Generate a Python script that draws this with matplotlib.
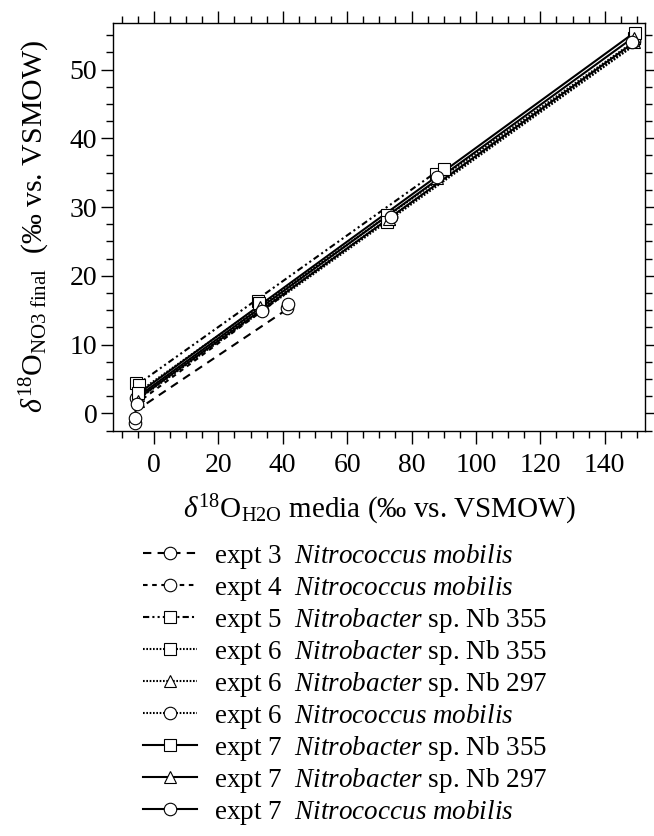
import numpy as np
import matplotlib
matplotlib.use("Agg")
import matplotlib.pyplot as plt
from matplotlib.ticker import MultipleLocator
from matplotlib.lines import Line2D

plt.rcParams['font.family'] = ['Liberation Serif', 'DejaVu Serif']
plt.rcParams['mathtext.fontset'] = 'custom'
plt.rcParams['mathtext.rm'] = 'Liberation Serif'
plt.rcParams['mathtext.it'] = 'Liberation Serif:italic'
plt.rcParams['mathtext.bf'] = 'Liberation Serif:bold'

# series labels (legend order)
labels = [
    r"expt 3  $\mathit{Nitrococcus\ mobilis}$",
    r"expt 4  $\mathit{Nitrococcus\ mobilis}$",
    r"expt 5  $\mathit{Nitrobacter}$ sp. Nb 355",
    r"expt 6  $\mathit{Nitrobacter}$ sp. Nb 355",
    r"expt 6  $\mathit{Nitrobacter}$ sp. Nb 297",
    r"expt 6  $\mathit{Nitrococcus\ mobilis}$",
    r"expt 7  $\mathit{Nitrobacter}$ sp. Nb 355",
    r"expt 7  $\mathit{Nitrobacter}$ sp. Nb 297",
    r"expt 7  $\mathit{Nitrococcus\ mobilis}$",
]

# d18O water (x) and d18O nitrate (y)
x_e3 = [-6.0, 41.2]
y_e3 = [-1.4, 15.3]
x_e4 = [-5.8, 41.6]
y_e4 = [-0.7, 15.9]
x_e5 = [-5.5, 32.3, 87.5]
y_e5 = [4.4, 16.3, 34.8]
x_e6_355 = [-4.5, 33.0, 72.5, 90.0, 149.0]
y_e6_355 = [4.1, 15.7, 28.9, 35.6, 54.6]
x_e6_297 = [-5.0, 33.0, 73.0, 88.0, 149.0]
y_e6_297 = [2.6, 15.3, 28.3, 34.2, 54.0]
x_e6_nm = [-5.5, 33.5, 73.5, 88.0, 149.0]
y_e6_nm = [2.3, 15.0, 28.5, 34.3, 54.2]
x_e7_355 = [-5.0, 32.5, 72.5, 149.5]
y_e7_355 = [2.9, 16.0, 27.8, 55.3]
x_e7_297 = [-5.0, 33.0, 73.0, 149.0]
y_e7_297 = [1.8, 15.5, 28.2, 54.6]
x_e7_nm = [-5.2, 33.5, 73.5, 148.5]
y_e7_nm = [1.4, 14.9, 28.6, 54.0]

# regression lines (slope, intercept)
fit_slope = [0.314, 0.345, 0.333, 0.331, 0.332, 0.334, 0.3407, 0.3394, 0.3362]
fit_intercept = [2.15, 3.3, 5.9, 4.7, 4.1, 3.7, 4.53, 4.13, 3.81]

xs = [x_e3, x_e4, x_e5, x_e6_355, x_e6_297, x_e6_nm, x_e7_355, x_e7_297, x_e7_nm]
ys = [y_e3, y_e4, y_e5, y_e6_355, y_e6_297, y_e6_nm, y_e7_355, y_e7_297, y_e7_nm]

markers = ['o', 'o', 's', 's', '^', 'o', 's', '^', 'o']
styles = [(0, (4, 3)), (0, (2.2, 2.2)), (0, (3, 1.5, 1, 1.5, 1, 1.5)),
          (0, (0.8, 0.8)), (0, (0.8, 0.8)), (0, (0.8, 0.8)),
          '-', '-', '-']

fig = plt.figure(figsize=(6.54, 8.36), dpi=100)
ax = fig.add_axes([0.1733, 0.4848, 0.8129, 0.488])

for i in range(len(xs)):
    xl = np.array([min(xs[i]), max(xs[i])])
    ax.plot(xl, fit_slope[i] * xl + fit_intercept[i], color='black',
            linestyle=styles[i], linewidth=1.5, zorder=2)
for i in range(len(xs)):
    ax.plot(xs[i], ys[i], linestyle='none', marker=markers[i], markersize=9,
            markerfacecolor='white', markeredgecolor='black',
            markeredgewidth=0.8, zorder=3)

ax.set_xlim(-12.6, 152.5)
ax.set_ylim(-2.52, 56.8)
ax.xaxis.set_major_locator(MultipleLocator(20))
ax.xaxis.set_minor_locator(MultipleLocator(5))
ax.yaxis.set_major_locator(MultipleLocator(10))
ax.yaxis.set_minor_locator(MultipleLocator(2.5))
ax.tick_params(which='both', direction='out', top=True, right=True, width=1)
ax.tick_params(which='major', length=9)
ax.tick_params(which='minor', length=4.8)
ax.tick_params(axis='x', labelsize=20, pad=7)
ax.tick_params(axis='y', labelsize=20, pad=2.5)
for sp in ax.spines.values():
    sp.set_linewidth(1)

ax.set_xlabel(r"$\delta^{18}\mathrm{O}_{\mathrm{H2O}}$ media (‰ vs. VSMOW)",
              fontsize=21, labelpad=11)
ax.set_ylabel(r"$\delta^{18}\mathrm{O}_{\mathrm{NO3\ final}}$  (‰ vs. VSMOW)",
              fontsize=21.5, labelpad=13)

handles = [Line2D([], [], color='black', linestyle=styles[i], linewidth=1.5,
                  marker=markers[i], markersize=9, markerfacecolor='white',
                  markeredgecolor='black', markeredgewidth=0.8)
           for i in range(len(labels))]
fig.legend(handles, labels, loc='upper left', bbox_to_anchor=(0.219, 0.352),
           frameon=False, fontsize=19.5, handlelength=2.0, handletextpad=0.63,
           labelspacing=0.11, borderpad=0, borderaxespad=0)

fig.savefig('out.png', dpi=100)
